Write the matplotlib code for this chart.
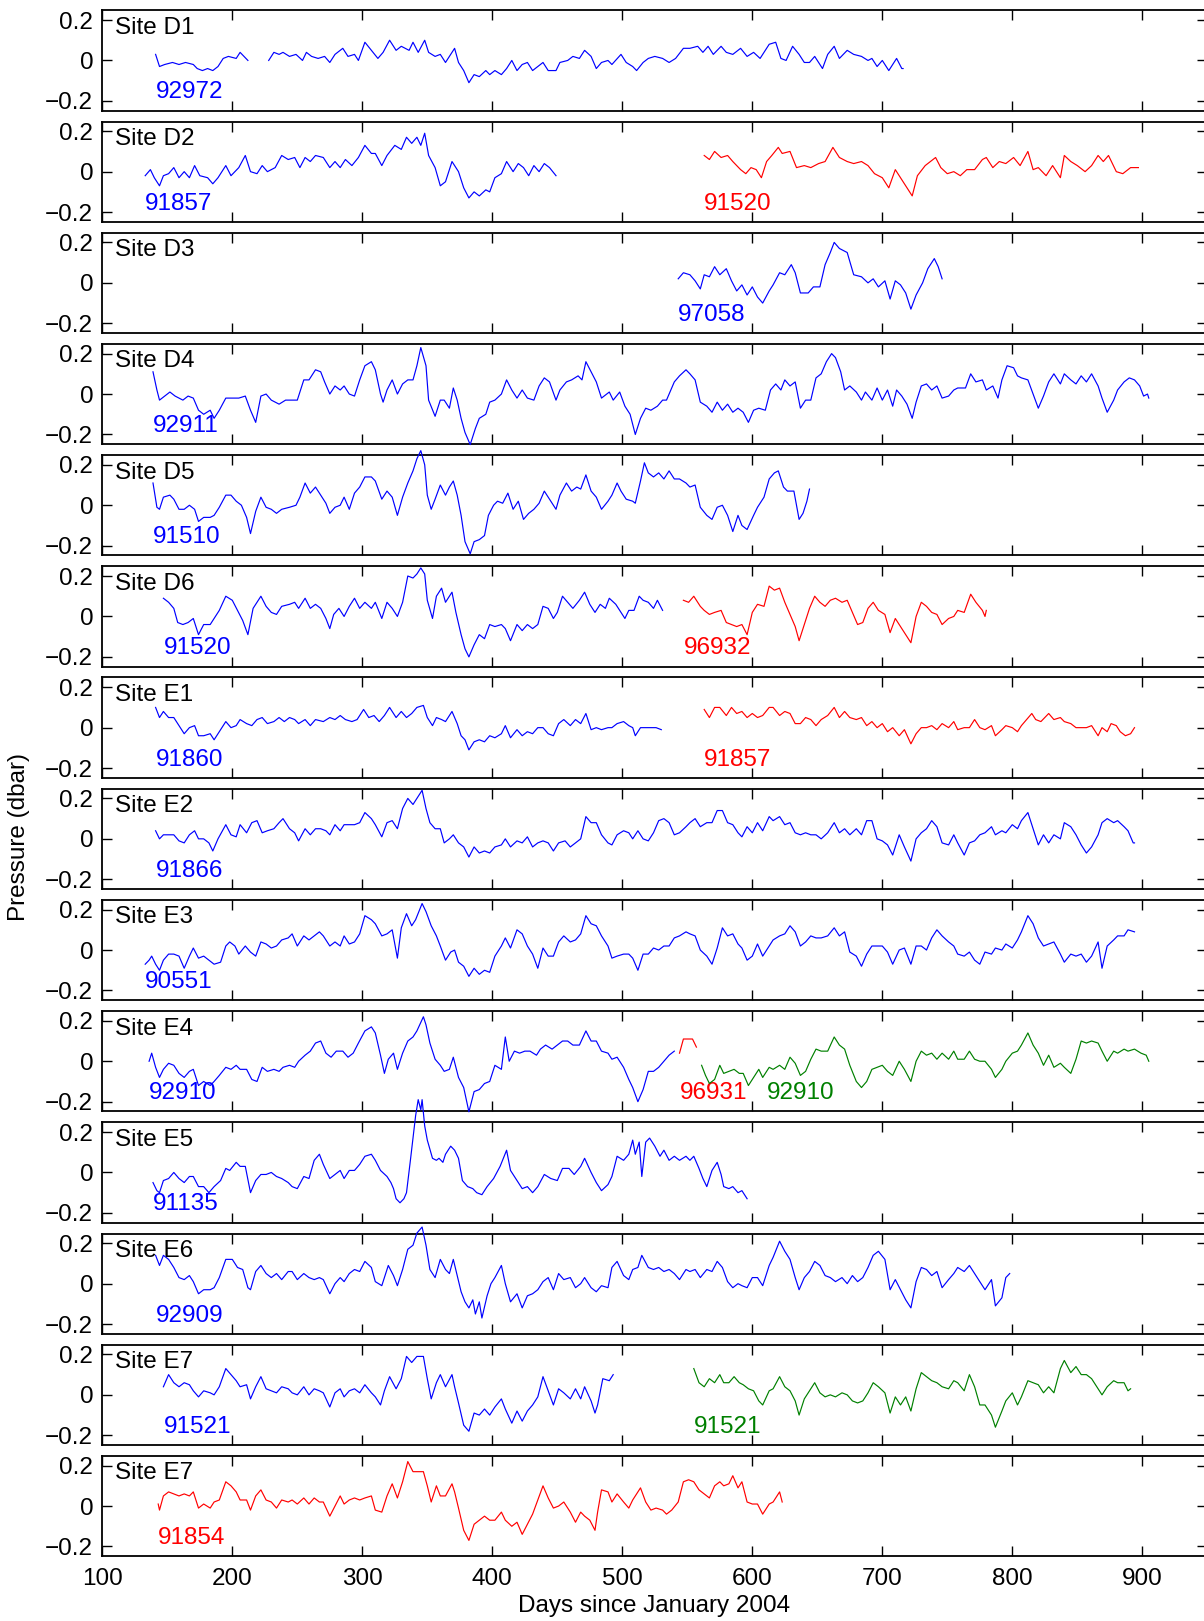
import matplotlib
matplotlib.use("Agg")
import matplotlib.pyplot as plt
from matplotlib.ticker import FixedLocator, FuncFormatter

plt.rcParams['font.family'] = ['Liberation Sans', 'DejaVu Sans']

# ---- data: (day since Jan 2004, pressure in 0.01 dbar) ----
d1_92972a = [(141,3),(144,-3),(148,-2),(154,-1),(159,-2),(164,-1),(170,-2),(173,-4),(177,-5),(181,-4),(185,-5),(189,-3),(193,1),(197,2),(203,1),(206,4),(209,2),(212,0)]
d1_92972b = [(228,0),(232,4),(236,3),(239,4),(244,2),(249,3),(254,0),(257,4),(261,2),(266,1),(271,2),(275,-1),(279,3),(285,6),(289,2),(294,3),(297,0),(302,9),(307,5),(312,1),(316,4),(321,10),(326,5),(330,7),(336,5),(339,9),(343,4),(348,10),(351,4),(356,2),(360,3),(364,-1),(368,3),(371,6),(374,-1),(378,-5),(382,-11),(386,-7),(390,-8),(395,-5),(398,-7),(402,-5),(407,-7),(411,-4),(415,0),(419,-5),(423,-2),(427,-1),(431,-5),(435,-3),(439,-1),(443,-5),(449,-5),(452,-1),(458,0),(462,2),(467,1),(471,5),(476,2),(480,-4),(484,-1),(489,0),(492,-2),(499,3),(503,-1),(508,-3),(511,-5),(516,-1),(520,1),(525,2),(531,1),(536,-1),(541,1),(547,6),(552,6),(558,7),(562,4),(566,7),(570,3),(576,7),(580,4),(585,3),(591,6),(596,2),(601,4),(606,1),(613,8),(618,9),(622,1),(626,0),(631,7),(636,3),(640,-1),(644,-1),(648,2),(654,-4),(658,3),(663,7),(667,1),(673,5),(678,3),(684,2),(689,0),(692,1),(696,-3),(700,0),(705,-5),(711,1),(715,-4),(716,-4)]

d2_91857 = [(133,-2),(137,1),(140,-3),(144,-7),(147,-2),(151,-1),(155,2),(159,-3),(163,0),(167,-3),(171,3),(175,-2),(181,-3),(185,-6),(189,-3),(195,3),(199,-2),(205,2),(210,8),(214,0),(219,-1),(223,3),(227,0),(233,2),(238,8),(243,6),(248,7),(252,2),(256,7),(260,5),(264,8),(270,7),(275,2),(279,5),(283,2),(287,6),(292,3),(297,7),(302,13),(307,9),(310,9),(315,3),(319,8),(325,13),(330,11),(334,17),(338,14),(342,17),(345,13),(348,19),(351,8),(356,2),(360,-7),(364,-5),(369,5),(374,0),(378,-8),(382,-13),(386,-10),(390,-12),(395,-9),(398,-10),(402,-3),(407,-1),(411,5),(416,0),(420,4),(424,2),(428,-2),(432,3),(436,0),(440,4),(444,2),(449,-2)]
d2_91520 = [(563,8),(567,6),(571,10),(576,7),(581,8),(585,5),(591,1),(595,-1),(599,2),(603,1),(607,-3),(611,5),(615,8),(620,12),(623,9),(629,10),(634,2),(640,3),(645,2),(651,4),(656,5),(662,12),(667,7),(673,5),(678,4),(684,5),(689,3),(694,-1),(700,-3),(705,-8),(710,1),(714,-3),(718,-7),(723,-12),(727,-2),(733,3),(737,5),(741,7),(745,2),(750,-1),(755,0),(760,-2),(765,1),(771,1),(777,6),(780,7),(785,2),(790,5),(795,4),(801,7),(806,3),(812,10),(816,1),(820,2),(826,-2),(831,3),(837,-3),(840,8),(845,5),(850,3),(856,0),(861,3),(866,8),(870,5),(874,8),(880,0),(885,-1),(891,2),(897,2)]

d3_97058 = [(543,2),(547,5),(552,4),(556,1),(560,-3),(563,4),(567,3),(571,8),(575,4),(580,7),(584,1),(588,-4),(592,-1),(596,-6),(600,-2),(604,-7),(608,-10),(613,-4),(616,-1),(621,5),(625,4),(630,9),(633,5),(637,-5),(643,-5),(647,-2),(652,-2),(656,9),(660,15),(663,20),(667,17),(673,15),(678,4),(684,3),(689,0),(693,2),(697,-2),(702,1),(706,-8),(710,1),(714,-1),(718,-5),(722,-13),(726,-6),(731,0),(735,7),(740,12),(743,8),(746,2)]

d4_92911 = [(139,11),(142,2),(144,-3),(148,-1),(152,1),(156,-1),(162,-3),(166,-1),(170,-2),(174,-8),(178,-10),(183,-8),(186,-12),(190,-8),(195,-2),(200,-2),(205,-2),(210,-1),(214,-8),(218,-14),(222,-1),(226,0),(230,-3),(236,-5),(241,-3),(246,-3),(250,-3),(255,7),(259,7),(264,12),(268,11),(271,6),(275,0),(279,4),(283,2),(286,4),(290,0),(294,-1),(298,7),(302,14),(307,16),(310,12),(314,0),(316,-4),(319,2),(323,7),(327,0),(331,5),(335,7),(339,7),(342,14),(345,23),(349,14),(351,-3),(356,-11),(360,-3),(363,-3),(367,-7),(370,3),(373,-3),(376,-12),(379,-19),(383,-25),(387,-17),(390,-12),(395,-10),(398,-4),(402,-3),(407,0),(411,7),(415,2),(419,-2),(423,2),(427,-2),(432,-3),(436,4),(440,8),(444,6),(449,-3),(452,2),(457,6),(461,7),(466,9),(469,7),(472,16),(476,11),(480,6),(484,-2),(490,1),(493,-3),(498,1),(502,-6),(506,-10),(510,-20),(514,-12),(518,-7),(522,-8),(527,-6),(531,-3),(534,-3),(540,6),(544,9),(549,12),(552,10),(556,7),(560,-4),(565,-6),(569,-9),(573,-4),(577,-8),(581,-5),(585,-9),(589,-7),(593,-9),(597,-14),(601,-8),(605,-7),(610,-8),(614,2),(618,5),(622,2),(625,7),(629,4),(633,6),(637,-7),(641,-3),(645,-3),(649,8),(653,10),(657,16),(661,20),(664,18),(668,11),(671,2),(675,4),(680,1),(684,-3),(687,1),(692,-3),(696,3),(700,-3),(704,2),(708,-6),(711,2),(715,-1),(719,-5),(723,-12),(726,-4),(730,4),(734,5),(738,2),(742,4),(746,-2),(751,-1),(755,2),(758,3),(764,3),(768,10),(772,6),(777,7),(780,2),(785,4),(789,-2),(792,7),(796,14),(801,13),(804,9),(807,8),(812,7),(816,0),(820,-7),(824,-1),(828,6),(832,10),(837,5),(840,10),(845,7),(849,5),(853,9),(857,6),(861,10),(866,4),(869,-2),(873,-9),(878,-3),(881,2),(886,6),(890,8),(894,7),(898,4),(901,-1),(904,0),(905,-2)]

d5_91510 = [(139,11),(142,-1),(144,-2),(147,4),(152,5),(155,3),(159,-2),(163,-2),(167,0),(171,-2),(174,-8),(178,-6),(183,-6),(186,-5),(190,-1),(195,5),(199,5),(203,2),(207,0),(211,-6),(214,-14),(218,-3),(222,4),(226,-1),(230,-2),(234,-4),(238,-2),(244,-1),(249,0),(252,4),(256,11),(260,6),(264,9),(268,5),(272,1),(275,-4),(279,-1),(283,0),(286,4),(290,-2),(294,6),(298,9),(302,14),(307,14),(310,12),(315,3),(319,7),(323,4),(327,-5),(331,4),(335,11),(339,17),(342,23),(345,27),(348,20),(350,5),(353,-2),(356,3),(360,10),(364,5),(367,9),(370,12),(373,5),(376,-5),(379,-18),(383,-24),(386,-18),(390,-17),(394,-15),(397,-5),(401,0),(404,2),(408,1),(412,6),(416,-2),(420,2),(424,-7),(428,-4),(432,-2),(436,1),(440,7),(444,3),(449,-2),(452,5),(457,11),(461,7),(465,9),(468,8),(472,15),(476,7),(480,4),(484,-2),(489,2),(492,5),(496,11),(499,7),(503,3),(508,2),(510,1),(514,12),(517,21),(520,16),(524,14),(528,16),(532,13),(536,17),(540,13),(544,13),(549,11),(552,9),(556,10),(560,-1),(565,-5),(569,-7),(573,-1),(577,0),(581,-5),(585,-13),(589,-5),(592,-10),(596,-12),(601,-5),(604,-1),(609,4),(613,13),(617,16),(620,17),(624,9),(627,7),(632,7),(636,-7),(639,-4),(642,2),(644,8)]

d6_91520 = [(147,9),(151,7),(155,4),(158,-3),(162,-4),(166,-3),(170,-1),(174,-9),(178,-4),(183,-4),(186,-1),(190,3),(195,10),(200,8),(204,3),(208,-2),(212,-9),(216,4),(222,10),(226,5),(230,2),(234,1),(238,5),(244,6),(248,7),(251,4),(256,9),(260,4),(264,6),(268,4),(272,-1),(275,-6),(278,1),(282,4),(286,0),(290,5),(294,9),(298,4),(302,7),(307,4),(310,7),(315,-1),(319,7),(323,4),(327,0),(331,7),(335,20),(339,19),(342,21),(345,24),(348,21),(350,8),(354,-1),(357,10),(361,14),(364,7),(367,10),(369,12),(372,2),(376,-9),(379,-16),(382,-20),(386,-14),(390,-9),(394,-11),(398,-4),(402,-5),(407,-4),(410,-6),(414,-12),(419,-4),(423,-7),(427,-4),(431,-6),(435,-4),(439,5),(443,4),(447,-1),(450,2),(454,10),(458,7),(462,4),(467,8),(471,12),(475,6),(479,2),(483,6),(487,4),(490,9),(495,6),(499,2),(502,-1),(505,3),(509,3),(513,10),(516,8),(520,7),(524,4),(527,8),(531,3)]
d6_96932 = [(547,8),(551,7),(555,10),(560,5),(563,3),(567,1),(571,2),(576,3),(580,-3),(584,-4),(588,-5),(592,-4),(596,-9),(600,2),(604,6),(609,5),(613,15),(617,13),(621,14),(625,7),(629,1),(633,-5),(636,-12),(640,-4),(644,4),(648,10),(652,7),(656,5),(660,8),(664,9),(669,7),(673,8),(677,2),(681,-4),(685,-3),(689,4),(693,7),(697,3),(702,1),(706,-8),(710,-1),(714,-5),(718,-9),(722,-13),(726,0),(730,7),(734,5),(738,2),(742,1),(746,-4),(751,-1),(755,0),(758,3),(763,2),(768,11),(772,7),(777,3),(779,0),(780,3)]

e1_91860 = [(141,10),(144,5),(147,8),(151,5),(155,5),(159,1),(163,-3),(167,0),(171,1),(174,-4),(178,-4),(183,-3),(186,-6),(190,-2),(195,3),(199,0),(203,1),(206,4),(211,2),(215,1),(219,4),(223,5),(227,2),(232,3),(236,5),(240,3),(244,5),(248,4),(251,2),(256,4),(260,1),(264,4),(270,3),(275,5),(279,4),(283,6),(287,4),(292,3),(296,4),(301,9),(305,5),(309,6),(313,3),(317,6),(321,10),(326,5),(330,8),(334,5),(338,7),(342,10),(347,11),(350,5),(354,1),(357,5),(361,4),(364,3),(369,8),(373,2),(376,-4),(379,-6),(382,-11),(386,-7),(390,-6),(394,-7),(398,-4),(402,-5),(407,-3),(410,1),(414,-5),(419,-1),(423,-4),(427,-2),(431,-3),(435,0),(439,0),(443,-3),(447,-4),(451,2),(455,4),(460,1),(464,4),(468,2),(472,7),(476,-1),(480,0),(484,-1),(489,0),(492,0),(496,2),(501,3),(505,1),(508,0),(510,-4),(514,0),(518,0),(522,0),(526,0),(530,-1)]
e1_91857 = [(563,9),(567,5),(571,10),(575,10),(580,6),(584,10),(588,7),(592,8),(596,5),(600,7),(604,5),(608,6),(613,10),(616,10),(621,6),(625,8),(629,7),(633,2),(637,2),(641,5),(645,4),(649,1),(653,4),(658,6),(663,10),(667,5),(671,8),(675,5),(680,4),(684,5),(688,1),(692,3),(696,0),(700,2),(704,-2),(708,0),(713,-4),(717,-1),(722,-8),(726,-3),(730,0),(734,0),(738,1),(742,-1),(746,2),(751,0),(755,3),(758,-1),(763,0),(767,0),(771,4),(775,0),(779,-1),(784,1),(787,-4),(792,-1),(795,1),(800,0),(804,-2),(807,1),(811,4),(815,7),(818,4),(822,3),(828,7),(832,4),(837,5),(840,3),(845,2),(849,0),(853,0),(857,0),(861,1),(866,-4),(869,0),(873,-2),(876,2),(880,1),(883,-2),(887,-4),(891,-3),(894,0)]

e2_91866 = [(141,4),(144,0),(147,2),(151,2),(155,2),(159,-1),(163,-2),(167,2),(171,4),(174,0),(178,0),(182,-2),(185,-6),(189,0),(195,7),(199,2),(203,1),(206,7),(211,3),(215,8),(219,9),(223,3),(227,4),(232,5),(236,8),(239,10),(244,5),(248,3),(251,-1),(256,5),(260,2),(264,5),(268,5),(272,4),(275,2),(279,7),(283,4),(286,7),(290,7),(294,7),(298,8),(302,13),(307,10),(310,7),(315,1),(319,8),(323,9),(327,5),(331,15),(335,20),(339,17),(342,20),(346,24),(349,15),(352,8),(356,5),(360,5),(363,-2),(367,0),(370,2),(374,-2),(378,-4),(382,-9),(386,-4),(390,-7),(394,-6),(398,-7),(402,-4),(407,-3),(410,0),(414,-4),(419,-1),(423,-2),(427,1),(431,-4),(435,-2),(439,-1),(443,-2),(447,-6),(451,-2),(456,-1),(460,-4),(464,-2),(468,0),(472,11),(476,8),(480,8),(484,2),(489,-2),(492,-3),(496,2),(501,4),(505,3),(508,0),(512,4),(516,0),(520,-1),(524,3),(528,9),(532,10),(536,8),(540,2),(544,3),(549,6),(552,8),(556,10),(560,6),(565,8),(569,8),(573,14),(577,14),(581,8),(585,7),(589,3),(592,1),(596,6),(600,3),(604,8),(608,4),(613,11),(616,9),(621,11),(625,7),(629,8),(633,3),(637,2),(641,3),(645,2),(649,2),(653,0),(658,3),(663,8),(667,3),(671,5),(675,2),(680,5),(684,2),(688,9),(692,9),(696,0),(700,-1),(704,-3),(708,-8),(713,2),(717,-4),(722,-11),(726,0),(730,3),(734,5),(738,9),(742,6),(746,-2),(751,-3),(755,2),(758,-2),(763,-8),(767,-2),(771,-1),(775,2),(779,3),(784,6),(787,2),(792,4),(795,3),(800,7),(804,5),(807,9),(812,13),(816,5),(820,-3),(824,2),(828,-2),(832,2),(837,0),(840,8),(845,6),(849,2),(853,-3),(857,-7),(861,-4),(866,2),(869,8),(873,10),(878,8),(881,9),(886,6),(889,4),(893,-2),(894,-2)]

e3_90551 = [(133,-7),(136,-5),(138,-3),(141,-7),(144,-10),(147,-5),(151,-2),(155,-2),(159,-3),(163,-9),(167,-3),(170,1),(174,-4),(178,-3),(182,-5),(186,-7),(191,-6),(195,2),(198,4),(202,2),(205,-2),(210,2),(214,-1),(218,-3),(222,4),(226,3),(230,1),(234,2),(238,5),(243,6),(246,8),(250,2),(255,7),(259,5),(263,7),(267,9),(270,7),(275,2),(279,4),(283,2),(286,7),(290,3),(294,4),(298,8),(302,17),(307,15),(310,13),(315,7),(319,8),(323,10),(327,-4),(330,11),(334,18),(338,12),(341,15),(346,23),(349,19),(353,12),(357,7),(360,2),(364,-5),(368,-1),(371,0),(374,-6),(378,-8),(382,-13),(386,-9),(390,-12),(394,-10),(398,-11),(402,-3),(407,2),(410,6),(414,1),(419,10),(423,8),(427,2),(431,-2),(435,-9),(439,1),(443,-3),(447,-3),(451,4),(455,7),(460,4),(464,5),(468,8),(472,17),(476,13),(480,12),(484,7),(489,2),(492,-4),(496,-3),(501,-2),(505,-2),(508,-4),(512,-10),(516,-2),(520,-2),(524,1),(528,0),(532,2),(536,2),(540,6),(544,7),(549,9),(552,8),(556,7),(560,0),(565,-3),(569,-7),(573,1),(577,11),(581,7),(585,8),(589,3),(592,1),(596,-5),(600,-3),(604,3),(608,-3),(613,2),(616,5),(621,7),(625,8),(629,12),(633,9),(637,2),(641,4),(645,7),(649,6),(653,6),(658,7),(663,11),(667,7),(671,9),(675,-1),(680,-3),(684,-8),(688,-2),(692,2),(696,2),(700,2),(704,-1),(708,-7),(713,0),(717,1),(722,-7),(726,2),(730,2),(734,0),(738,6),(742,10),(746,7),(751,4),(755,2),(758,-2),(763,-3),(767,-1),(771,-5),(775,-7),(779,-1),(784,-2),(787,1),(792,0),(795,3),(800,1),(804,5),(807,9),(812,17),(816,13),(820,6),(824,2),(828,3),(832,4),(837,-2),(840,-6),(845,-2),(849,-3),(853,-2),(857,-6),(861,-3),(866,4),(869,-9),(873,2),(878,5),(881,7),(886,7),(889,10),(894,9)]

e4_92910a = [(136,0),(138,4),(141,-3),(144,-8),(147,-4),(151,-1),(155,-2),(159,-6),(163,-8),(167,-5),(170,-4),(174,-12),(178,-10),(183,-12),(186,-10),(190,-7),(195,-3),(199,-4),(203,-2),(206,-4),(211,-4),(215,-9),(219,-10),(223,-3),(227,-5),(232,-4),(236,-5),(239,-3),(244,-2),(248,-3),(251,0),(256,3),(260,5),(264,9),(268,10),(272,4),(276,2),(280,5),(285,5),(289,2),(293,4),(297,9),(302,15),(307,17),(310,14),(314,3),(317,-6),(320,1),(324,4),(327,-4),(331,4),(335,10),(339,12),(342,15),(347,22),(349,18),(352,9),(356,1),(360,-2),(363,-5),(367,-4),(370,2),(374,-8),(378,-13),(382,-25),(386,-15),(390,-14),(394,-11),(398,-10),(402,-2),(407,-4),(410,12),(413,0),(417,5),(421,4),(425,5),(429,5),(434,3),(437,6),(441,8),(446,6),(450,8),(454,10),(458,10),(462,8),(467,8),(472,15),(476,10),(480,10),(484,5),(489,4),(492,1),(496,2),(501,-3),(505,-9),(508,-13),(512,-20),(516,-14),(520,-5),(524,-5),(528,-3),(532,0),(536,3),(540,5)]
e4_96931 = [(544,4),(547,11),(551,11),(554,11),(557,7)]
e4_92910b = [(561,-2),(564,-7),(567,-11),(571,-9),(575,-2),(578,-6),(582,-5),(586,-4),(590,-6),(593,-6),(597,-12),(601,-8),(605,-4),(608,-8),(613,-3),(616,-4),(621,-2),(625,-4),(629,2),(633,-1),(637,-7),(641,-5),(645,1),(649,6),(653,5),(658,5),(663,12),(667,8),(671,6),(675,-2),(680,-10),(684,-13),(688,-10),(692,-4),(696,-3),(700,-2),(704,-5),(708,-7),(713,0),(717,-4),(722,-10),(726,0),(730,5),(734,3),(738,4),(742,1),(746,4),(751,1),(755,5),(758,1),(763,1),(767,5),(771,1),(775,0),(779,0),(784,-4),(787,-8),(792,-4),(795,0),(800,4),(804,5),(807,8),(812,14),(816,8),(820,4),(824,-2),(828,3),(832,-3),(837,-1),(840,-3),(845,-6),(849,1),(853,10),(857,9),(861,10),(866,9),(869,5),(873,0),(878,5),(881,4),(886,6),(889,5),(894,6),(899,4),(903,3),(905,0)]

e5_91135 = [(139,-5),(142,-9),(144,-10),(147,-4),(151,-3),(155,0),(159,-3),(163,-5),(167,-2),(170,-2),(174,-7),(178,-7),(182,-10),(186,-7),(191,-4),(195,2),(198,1),(203,5),(206,3),(210,3),(214,-10),(218,-4),(222,-1),(226,-1),(230,0),(234,-2),(238,-3),(243,-5),(246,-7),(250,-8),(255,-2),(259,-3),(263,6),(267,9),(270,4),(275,-3),(279,-1),(283,1),(286,-3),(290,1),(294,1),(298,4),(302,8),(307,9),(310,6),(314,1),(319,-2),(322,-5),(324,-8),(326,-13),(329,-15),(332,-13),(334,-10),(337,6),(339,17),(341,28),(343,36),(345,31),(346,36),(348,23),(350,16),(354,7),(357,6),(359,7),(362,5),(364,9),(368,13),(371,11),(374,7),(377,-4),(381,-7),(385,-8),(388,-10),(392,-11),(396,-7),(401,-3),(406,3),(411,11),(414,1),(419,-4),(423,-8),(427,-7),(431,-10),(435,-7),(440,-1),(445,-3),(450,-4),(454,2),(459,2),(463,-1),(468,3),(471,7),(476,0),(480,-5),(484,-9),(489,-6),(492,-2),(496,8),(501,6),(505,9),(508,16),(510,9),(513,15),(515,-2),(518,15),(521,17),(525,13),(529,8),(532,11),(536,6),(540,8),(544,6),(549,8),(552,6),(555,8),(559,2),(562,-3),(565,-7),(569,1),(573,5),(576,-1),(578,-7),(582,-8),(585,-7),(589,-10),(592,-9),(596,-13)]

e6_92909 = [(141,14),(144,9),(147,14),(151,12),(155,8),(159,3),(163,2),(167,4),(170,1),(174,-5),(178,-3),(183,-3),(186,-2),(190,3),(195,12),(200,12),(204,8),(208,7),(212,-2),(214,-3),(218,6),(222,9),(226,5),(230,3),(234,5),(238,2),(243,6),(246,6),(250,2),(255,5),(259,3),(263,2),(267,3),(270,2),(275,-5),(279,0),(283,3),(286,1),(290,5),(294,7),(298,6),(302,11),(307,8),(310,1),(315,-1),(320,9),(324,4),(327,-1),(331,7),(335,17),(339,19),(342,25),(346,28),(349,19),(352,7),(356,3),(360,12),(364,7),(367,5),(370,12),(373,4),(376,-4),(379,-9),(382,-12),(385,-8),(387,-15),(390,-9),(392,-17),(396,-6),(399,0),(402,3),(407,9),(410,0),(414,-9),(419,-5),(423,-12),(427,-6),(431,-5),(435,-3),(439,1),(443,3),(447,-3),(451,5),(455,2),(460,3),(464,-2),(468,0),(471,3),(476,-2),(480,-4),(484,-1),(489,-2),(492,8),(496,11),(501,4),(505,2),(508,7),(512,8),(515,14),(520,8),(524,7),(528,8),(532,6),(536,7),(540,5),(544,2),(549,7),(552,6),(556,7),(560,3),(565,7),(569,6),(573,11),(577,8),(581,1),(585,-2),(589,0),(592,-1),(596,-2),(600,3),(604,3),(608,-1),(613,9),(616,13),(621,21),(625,16),(629,12),(633,3),(636,-3),(640,3),(644,6),(648,11),(652,9),(656,4),(660,3),(664,1),(669,3),(673,0),(677,4),(681,1),(685,3),(689,8),(693,14),(697,16),(702,12),(706,-3),(710,2),(714,-3),(718,-8),(722,-12),(726,1),(730,8),(734,7),(738,4),(742,6),(746,-2),(751,2),(755,5),(758,8),(763,6),(767,9),(771,5),(775,1),(779,-3),(784,2),(787,-11),(792,-7),(795,3),(798,5)]

e7_91521a = [(147,4),(151,10),(155,6),(159,4),(163,6),(167,5),(170,2),(174,-1),(178,2),(183,1),(186,0),(190,4),(195,13),(199,10),(203,7),(206,4),(211,5),(214,-2),(218,4),(222,9),(226,3),(230,2),(234,1),(238,4),(243,3),(246,1),(250,0),(255,4),(259,0),(263,3),(267,2),(270,1),(275,-6),(279,1),(283,3),(286,-1),(290,2),(294,3),(298,1),(302,5),(307,1),(310,-1),(314,-5),(317,2),(321,9),(326,3),(330,8),(334,19),(338,16),(342,19),(347,19),(350,8),(353,-2),(357,6),(360,10),(364,4),(369,10),(371,4),(374,-4),(378,-15),(382,-18),(386,-9),(390,-10),(394,-7),(398,-10),(402,-6),(407,-2),(410,-7),(415,-14),(419,-8),(423,-13),(427,-8),(431,-5),(435,-1),(439,9),(443,2),(447,-5),(451,3),(455,1),(460,-2),(464,3),(468,-2),(471,4),(476,-3),(479,-9),(481,-5),(485,8),(490,7),(493,10)]
e7_91521b = [(555,13),(559,6),(563,4),(567,8),(571,6),(575,10),(578,6),(582,6),(586,9),(590,6),(593,5),(597,3),(601,2),(605,-3),(608,-5),(613,2),(616,3),(621,9),(625,4),(629,2),(633,-3),(636,-10),(640,-2),(644,2),(648,6),(652,1),(656,-1),(660,0),(664,-1),(669,1),(673,0),(677,-3),(681,-4),(685,-3),(689,1),(693,6),(697,4),(702,1),(706,-9),(710,-1),(714,-5),(718,-1),(722,-8),(726,3),(730,11),(734,9),(738,7),(742,6),(746,4),(751,3),(755,7),(758,6),(763,2),(767,10),(771,4),(775,-5),(779,-5),(784,-10),(787,-16),(792,-8),(795,-3),(800,1),(804,-5),(807,-1),(812,7),(816,6),(820,5),(824,1),(828,4),(832,1),(837,13),(840,17),(845,11),(849,14),(853,10),(857,10),(861,8),(866,3),(869,0),(873,4),(878,7),(881,6),(886,6),(889,2),(891,3)]

e7_91854 = [(143,1),(144,-2),(147,5),(151,7),(155,6),(159,5),(163,6),(167,5),(170,7),(174,-1),(178,1),(183,-1),(186,2),(190,3),(195,12),(199,10),(203,7),(206,3),(211,3),(214,-2),(218,5),(222,8),(226,3),(230,2),(234,-1),(238,3),(243,2),(246,3),(250,1),(255,4),(259,1),(263,4),(267,2),(270,2),(275,-5),(279,0),(283,5),(286,1),(290,3),(294,4),(298,3),(302,4),(307,5),(310,-2),(315,-3),(319,5),(323,11),(327,4),(331,12),(335,22),(339,17),(343,17),(347,17),(350,10),(353,2),(357,10),(360,5),(364,5),(369,11),(371,7),(374,-1),(378,-12),(382,-17),(386,-9),(390,-7),(394,-5),(398,-7),(402,-7),(407,-3),(410,-7),(415,-10),(419,-8),(423,-14),(427,-9),(431,-4),(435,3),(439,10),(443,4),(447,-1),(451,0),(455,2),(460,-3),(464,-8),(468,-3),(471,-5),(475,-7),(479,-12),(481,-3),(484,8),(489,7),(492,2),(496,6),(501,2),(505,-1),(508,3),(512,7),(514,9),(518,2),(522,-2),(526,-1),(531,-2),(534,-4),(538,-2),(543,2),(547,12),(551,13),(555,12),(559,8),(563,6),(567,4),(571,10),(575,12),(578,10),(582,11),(585,15),(589,9),(592,12),(596,2),(600,1),(604,1),(608,-4),(613,1),(616,2),(621,7),(623,2)]

site_titles = ["Site D1", "Site D2", "Site D3", "Site D4", "Site D5", "Site D6", "Site E1",
               "Site E2", "Site E3", "Site E4", "Site E5", "Site E6", "Site E7", "Site E7"]
x_ticks = [100, 200, 300, 400, 500, 600, 700, 800, 900]
y_ticks = [-0.2, 0.0, 0.2]

BLUE, RED, GREEN = "#0000ff", "#ff0000", "#008000"

# (series, colour, float label, label day override)
panel_series = [
    [(d1_92972a, BLUE, "92972", None), (d1_92972b, BLUE, None, None)],
    [(d2_91857, BLUE, "91857", None), (d2_91520, RED, "91520", None)],
    [(d3_97058, BLUE, "97058", None)],
    [(d4_92911, BLUE, "92911", None)],
    [(d5_91510, BLUE, "91510", None)],
    [(d6_91520, BLUE, "91520", None), (d6_96932, RED, "96932", None)],
    [(e1_91860, BLUE, "91860", None), (e1_91857, RED, "91857", None)],
    [(e2_91866, BLUE, "91866", None)],
    [(e3_90551, BLUE, "90551", None)],
    [(e4_92910a, BLUE, "92910", None), (e4_96931, RED, "96931", None), (e4_92910b, GREEN, "92910", 611)],
    [(e5_91135, BLUE, "91135", None)],
    [(e6_92909, BLUE, "92909", None)],
    [(e7_91521a, BLUE, "91521", None), (e7_91521b, GREEN, "91521", None)],
    [(e7_91854, RED, "91854", None)],
]

W, H = 1204, 1621
fig = plt.figure(figsize=(W / 100, H / 100), dpi=100)
FS = 17.5
left_px, top0_px, pitch_px, ph_px = 102.3, 10.3, 111.2, 100.3
width_px = 850 * 1.3

def fmt(v, pos):
    if abs(v) < 1e-9:
        return "0"
    return ("%.1f" % v).replace("-", "\u2212")

for k, (title, series) in enumerate(zip(site_titles, panel_series)):
    top = top0_px + k * pitch_px
    ax = fig.add_axes([left_px / W, 1 - (top + ph_px) / H, width_px / W, ph_px / H])
    ax.set_xlim(100, 950)
    ax.set_ylim(-0.248, 0.248)
    for s in ax.spines.values():
        s.set_linewidth(1.3)
    ax.xaxis.set_major_locator(FixedLocator(x_ticks))
    ax.yaxis.set_major_locator(FixedLocator(y_ticks))
    ax.yaxis.set_major_formatter(FuncFormatter(fmt))
    ax.tick_params(axis='both', direction='in', length=7, width=1.0,
                   top=True, right=True, labelsize=FS)
    ax.tick_params(axis='y', pad=6.5)
    ax.tick_params(axis='x', pad=8.5)
    if k < len(site_titles) - 1:
        ax.tick_params(axis='x', labelbottom=False)
    for lab in ax.get_yticklabels():
        lab.set_va('center_baseline')
    ax.text(110, 0.1315, title, fontsize=FS, va='baseline', ha='left', color='black')
    for data, color, lab, labday in series:
        days = [p[0] for p in data]
        vals = [p[1] / 100.0 for p in data]
        ax.plot(days, vals, color=color, lw=0.85, clip_on=False, zorder=3)
        if lab:
            lx = labday if labday is not None else days[0]
            ax.text(lx, -0.188, lab, fontsize=FS, color=color, va='baseline', ha='left')

fig.text(654 / W, 1 - 1606 / H, "Days since January 2004", fontsize=FS, ha='center', va='center')
fig.text(18.6 / W, 1 - 837 / H, "Pressure (dbar)", fontsize=FS, ha='center', va='center', rotation=90)

fig.savefig("out.png", dpi=100)
